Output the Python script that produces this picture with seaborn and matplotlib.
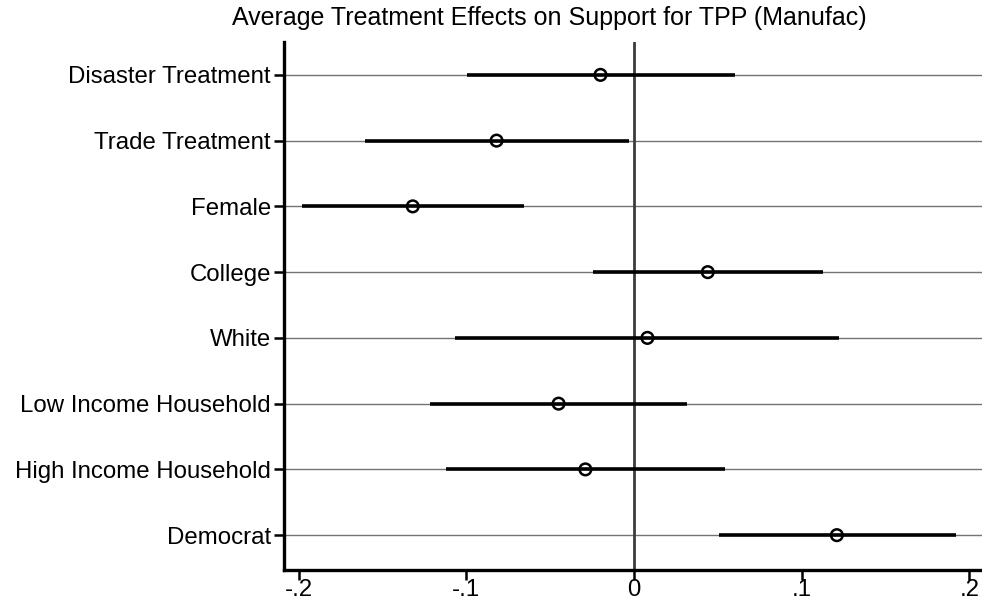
import matplotlib
matplotlib.use("Agg")
import matplotlib.pyplot as plt
import seaborn as sns
import pandas as pd
import numpy as np

categories = ["Disaster Treatment", "Trade Treatment", "Female", "College", "White",
              "Low Income Household", "High Income Household", "Democrat"]
estimates = [-0.020, -0.082, -0.132, 0.044, 0.008, -0.045, -0.029, 0.121]
ci_low = [-0.0995, -0.1605, -0.198, -0.0247, -0.1068, -0.1215, -0.112, 0.0506]
ci_high = [0.060, -0.0032, -0.0656, 0.1126, 0.1225, 0.0314, 0.0543, 0.1918]
xticks = [-0.2, -0.1, 0.0, 0.1, 0.2]
xticklabels = ["-.2", "-.1", "0", ".1", ".2"]
title = "Average Treatment Effects on Support for TPP (Manufac)"

df = pd.DataFrame({"term": categories, "est": estimates, "lo": ci_low, "hi": ci_high})
df["pos"] = np.arange(len(df))

sns.set_theme(style="white")
plt.rcParams["font.family"] = ["Liberation Sans", "DejaVu Sans"]

fig = plt.figure(figsize=(9.82, 6.05), dpi=100)
ax = fig.add_axes([284 / 982, 1 - 570 / 605, 1 - 284 / 982, (570 - 42) / 605])

# gridlines at each category
for p in df["pos"]:
    ax.axhline(p, color="#737373", lw=1.0, zorder=1)
ax.axvline(0, color="#3c3c3c", lw=2.0, zorder=2)

ax.hlines(df["pos"], df["lo"], df["hi"], color="black", lw=2.6, zorder=3)
sns.scatterplot(data=df, x="est", y="pos", ax=ax, marker="o", s=70,
                facecolor="none", edgecolor="black", linewidth=1.8, zorder=4, legend=False)

ax.set_xlim(-0.2088, 0.2076)
ax.set_ylim(len(df) - 0.47, -0.5)
ax.set_yticks(df["pos"])
ax.set_yticklabels(categories, fontsize=17.3)
ax.set_xticks(xticks)
ax.set_xticklabels(xticklabels, fontsize=17.3)
ax.set_xlabel("")
ax.set_ylabel("")

for side in ["top", "right"]:
    ax.spines[side].set_visible(False)
for side in ["left", "bottom"]:
    ax.spines[side].set_visible(True)
    ax.spines[side].set_color("black")
    ax.spines[side].set_linewidth(2.4)

ax.tick_params(axis="y", direction="out", length=7.5, width=1.8, color="black", pad=2, left=True)
ax.tick_params(axis="x", direction="out", length=7.5, width=1.8, color="black", pad=-1, bottom=True)
for lab in ax.get_yticklabels() + ax.get_xticklabels():
    lab.set_color("black")

fig.text(549 / 982, 1 - 18 / 605, title, ha="center", va="center", fontsize=18, color="black")

fig.savefig("out.png", dpi=100, facecolor="white")
